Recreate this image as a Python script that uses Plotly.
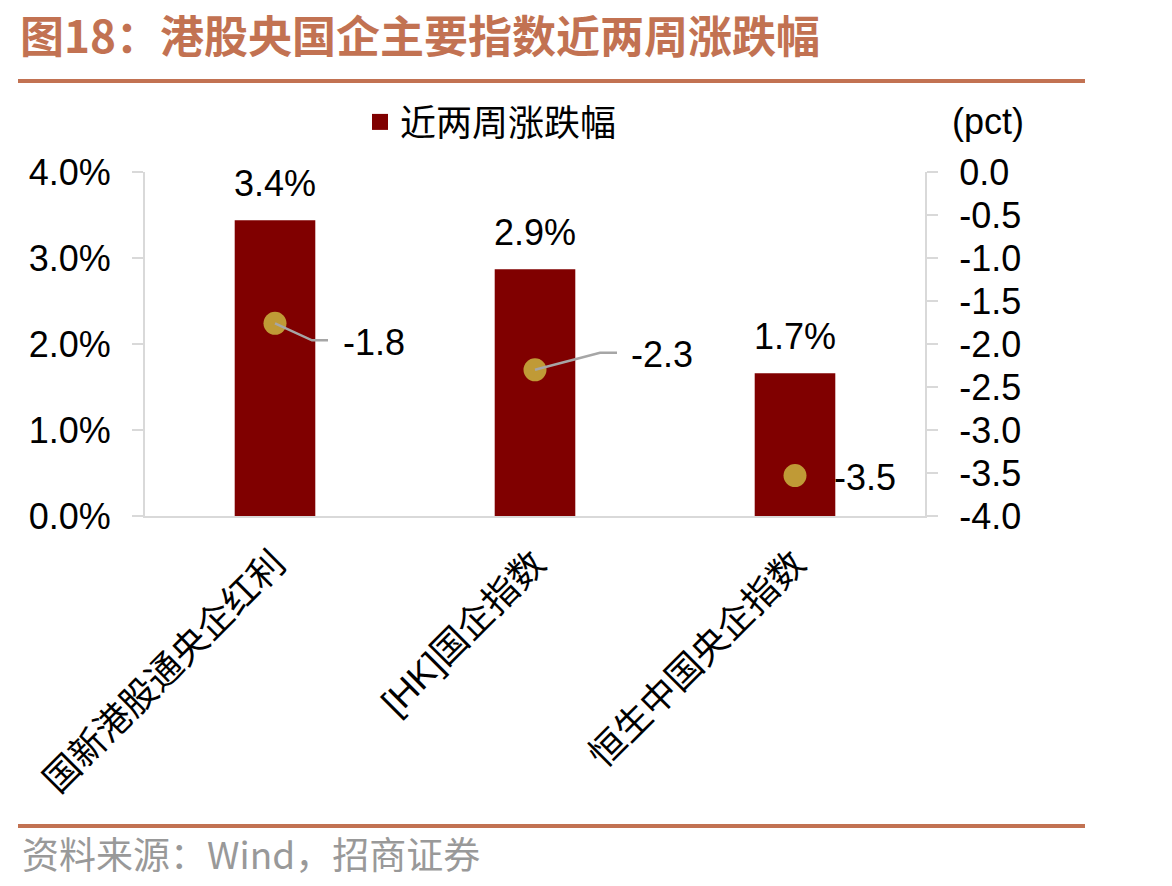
import plotly.graph_objects as go

# ---------------- data ----------------
categories = ["国新港股通央企红利", "[HK]国企指数", "恒生中国央企指数"]
change_2w = [3.44, 2.87, 1.66]          # 近两周涨跌幅 (%), left axis
pct_change = [-1.76, -2.30, -3.53]       # (pct), right axis
left_ticks = [0, 1, 2, 3, 4]
right_ticks = [0.0, -0.5, -1.0, -1.5, -2.0, -2.5, -3.0, -3.5, -4.0]

title_text = "图18：港股央国企主要指数近两周涨跌幅"
legend_name = "近两周涨跌幅"
source_text = "资料来源：Wind，招商证券"

# ---------------- style ----------------
W, H = 1172, 886
PL, PR, PT, PB = 145, 925, 172, 516       # plot area in pixels
BAR_COLOR = "#800000"
DOT_COLOR = "#C09A36"
ACCENT = "#C27252"
AXIS_GRAY = "#D9D9D9"
LATIN = "Liberation Sans, Arial, Noto Sans CJK SC"
CJK = "Noto Sans CJK SC, Liberation Sans"

# per-point label offsets (px) and connector paths (px, y up) for the right-axis dots
dot_label_offsets = [(66, -19), (94, 15), (37, -2)]
dot_connectors = ["M0,0 L37,-17 L53,-17", "M0,0 L65,17 L82,17", None]


def px_x(px):
    return (px - PL) / (PR - PL)


def px_y(py):
    return (PB - py) / (PB - PT)


fig = go.Figure()

fig.add_trace(go.Bar(
    x=categories, y=change_2w, name=legend_name, legendgroup="bar",
    marker=dict(color=BAR_COLOR, line=dict(width=0)),
    width=0.31, yaxis="y", showlegend=False,
))

# legend entry for the bar series (square key)
fig.add_trace(go.Scatter(
    x=[None], y=[None], mode="markers", name=legend_name, legendgroup="bar",
    marker=dict(color=BAR_COLOR, symbol="square", size=16, line=dict(width=0)),
    showlegend=True, hoverinfo="skip",
))

fig.add_trace(go.Scatter(
    x=categories, y=pct_change, mode="markers", yaxis="y2",
    marker=dict(color=DOT_COLOR, size=23, line=dict(width=0)),
    showlegend=False, name="pct",
))

annotations = []
shapes = []

# bar value labels
for c, v in zip(categories, change_2w):
    annotations.append(dict(
        x=c, y=v, xref="x", yref="y", text=f"{v:.1f}%", showarrow=False,
        xanchor="center", yanchor="middle", yshift=37,
        font=dict(family=LATIN, size=36, color="#000000"),
    ))

# dot labels and connectors
for c, v, (dx, dy), path in zip(categories, pct_change, dot_label_offsets, dot_connectors):
    annotations.append(dict(
        x=c, y=v, xref="x", yref="y2", text=f"{v:.1f}", showarrow=False,
        xanchor="left", yanchor="middle", xshift=dx, yshift=dy,
        font=dict(family=LATIN, size=36, color="#000000"),
    ))
    if path:
        shapes.append(dict(
            type="path", xref="x", yref="y2", xsizemode="pixel", ysizemode="pixel",
            xanchor=c, yanchor=v, path=path, layer="above",
            line=dict(color="#A6A6A6", width=2.5),
        ))

# title, (pct), source
annotations.append(dict(
    x=px_x(18), y=px_y(0), xref="paper", yref="paper", text=f"<b>{title_text}</b>",
    showarrow=False, xanchor="left", yanchor="top",
    font=dict(family=CJK, size=44, color=ACCENT),
))
annotations.append(dict(
    x=px_x(1026), y=px_y(122), xref="paper", yref="paper", text="(pct)",
    showarrow=False, xanchor="right", yanchor="middle",
    font=dict(family=LATIN, size=36, color="#000000"),
))
annotations.append(dict(
    x=px_x(20), y=px_y(853), xref="paper", yref="paper", text=source_text,
    showarrow=False, xanchor="left", yanchor="middle",
    font=dict(family=CJK, size=37, color="#999999"),
))

# decorative rules
for py in (81, 826):
    shapes.append(dict(
        type="line", xref="paper", yref="paper",
        x0=px_x(18), x1=px_x(1085), y0=px_y(py), y1=px_y(py),
        line=dict(color=ACCENT, width=4), layer="above",
    ))

fig.update_layout(
    width=W, height=H,
    margin=dict(l=PL, r=W - PR, t=PT, b=H - PB, pad=0),
    paper_bgcolor="white", plot_bgcolor="white",
    showlegend=True,
    legend=dict(
        orientation="h", x=px_x(360), y=px_y(122), xanchor="left", yanchor="middle",
        font=dict(family=CJK, size=36, color="#000000"),
        bgcolor="rgba(0,0,0,0)", itemwidth=30,
    ),
    xaxis=dict(
        type="category", range=[-0.5, 2.5], showgrid=False, zeroline=False,
        showline=True, linecolor=AXIS_GRAY, linewidth=2, ticks="",
        tickangle=-45, tickfont=dict(family=LATIN, size=36, color="#000000"),
        ticklabelstandoff=10, automargin=False,
    ),
    yaxis=dict(
        range=[0, 4], tickvals=left_ticks, ticktext=[f"{t:.1f}%" for t in left_ticks],
        showgrid=False, zeroline=False, showline=True, linecolor=AXIS_GRAY, linewidth=2,
        ticks="outside", ticklen=11, tickwidth=2, tickcolor=AXIS_GRAY,
        tickfont=dict(family=LATIN, size=36, color="#000000"),
        ticklabelstandoff=14, automargin=False,
    ),
    yaxis2=dict(
        range=[-4, 0], overlaying="y", side="right",
        tickvals=right_ticks, ticktext=[f"{t:.1f}" for t in right_ticks],
        showgrid=False, zeroline=False, showline=True, linecolor=AXIS_GRAY, linewidth=2,
        ticks="outside", ticklen=11, tickwidth=2, tickcolor=AXIS_GRAY,
        tickfont=dict(family=LATIN, size=36, color="#000000"),
        ticklabelstandoff=14, automargin=False,
    ),
    annotations=annotations, shapes=shapes,
)

fig.write_html("out.html")
